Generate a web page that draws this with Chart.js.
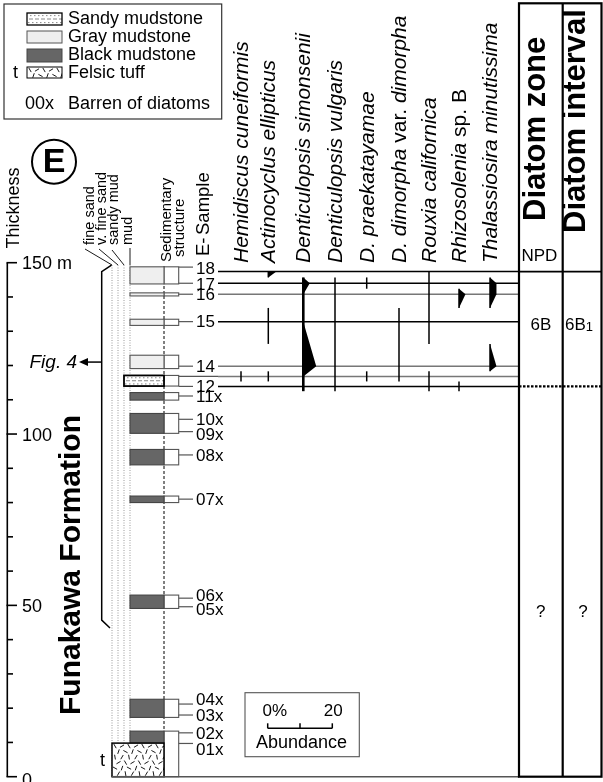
<!DOCTYPE html>
<html><head><meta charset="utf-8">
<script src="https://cdn.jsdelivr.net/npm/chart.js@4"></script>
<style>html,body{margin:0;padding:0;background:#fff;}#wrap{width:603px;height:782px;}</style>
</head><body><div id="wrap"><canvas id="c" width="603" height="782"></canvas></div>
<script>
// ---------------- DATA ----------------
const thicknessTicks = [0, 50, 100, 150];
const thicknessTickLabels = ['0', '50', '100', '150 m'];
const thicknessMinorTicks = [10, 20, 30, 40, 60, 70, 80, 90, 110, 120, 130, 140];

const sampleLabels  = ['18','17','16','15','14','13','12','11x','10x','09x','08x','07x','06x','05x','04x','03x','02x','01x'];
const sampleHeights = [147.4,144.0,140.8,132.8,119.8,116.8,113.9,111.1,104.3,100.7,93.9,81.0,52.1,49.6,21.2,18.0,12.8,9.7];

const lithoTypes = ['gray','gray','gray','gray','sandy','black','black','black','black','black','black','black','tuff'];
const lithoTops  = [148.8,141.2,133.5,123.0,117.1,112.1,106.0,95.5,81.9,53.0,22.6,13.3,9.8];
const lithoBases = [143.8,140.3,131.7,119.1,114.0,109.9,100.2,91.0,80.0,49.1,17.3,9.9,0];
const structTops  = [148.8,141.2,133.5,123.0,117.1,112.1,106.0,95.5,81.9,53.0,22.6,13.3];
const structBases = [143.8,140.3,131.7,119.1,114.0,109.9,100.2,91.0,80.0,49.1,17.3,0];

const speciesNames = ['Hemidiscus cuneiformis','Actinocyclus ellipticus','Denticulopsis simonsenii','Denticulopsis vulgaris','D. praekatayamae','D. dimorpha var. dimorpha','Rouxia californica','Rhizosolenia sp. B','Thalassiosira minutissima'];
// abundance (%) at samples 18,17,16,15,14,13,12 ; null = absent, 0 = present (rare)
const hemidiscus    = [null,null,null,null,null,0,null];
const actinocyclus  = [2.5,null,null,0,null,0,null];
const simonsenii    = [null,2,0,0,4,0,0];
const vulgaris      = [null,0,0,0,0,0,0];
const praekatayamae = [null,0,null,null,null,0,null];
const dimorpha      = [null,null,null,0,0,0,null];
const rouxia        = [0,0,0,0,null,0,0];
const rhizosolenia  = [null,null,2,null,null,null,0];
const thalassiosira = [null,2,2,null,2,null,null];
const speciesSeries = [hemidiscus,actinocyclus,simonsenii,vulgaris,praekatayamae,dimorpha,rouxia,rhizosolenia,thalassiosira];

const zoneNames     = ['6B','?'];
const intervalNames = ['6B1','?'];
const zoneTops      = [147.4,113.9];
const zoneBases     = [113.9,0];

const legendLabels = ['Sandy mudstone','Gray mudstone','Black mudstone','Felsic tuff','Barren of diatoms'];
const grainLabels = ['fine sand','v. fine sand','sandy mud','mud'];
const abundanceScaleTicks = [0,10,20];

// ---------------- LAYOUT / STYLE ----------------
const FONT = '"Liberation Sans", Arial, Helvetica, sans-serif';
const PX_PER_PCT = 3.23;
const L = {
  axisX: 7.3, grainX: [112,118,124,130], structL: 164, structR: 178.7,
  tickR: 193, labelX: 196, lineStart: 218, panelR: 519, zoneDiv: 562.7, tableR: 601.5, tableTop: 3.3,
  speciesX: [241,268.3,303.3,335,366.7,399,429,459,490],
  zoneLabelAt: [131.8, 48.0]
};
const grainOf = {gray:3, black:3, sandy:2, tuff:0};
const sampleLineColor = {'18':'#000','17':'#000','16':'#777','15':'#000','14':'#777','13':'#777','12':'#000'};
const hiddenSampleLabels = ['13'];
const sampleTickDy  = {'18': -4.5};
const sampleLabelDy = {'18': -3.5, '17': 1, '09x': 3, '06x': -3, '05x': 3, '04x': -4.5, '01x': 5.5};
const speciesLineW = [1.5,1.5,2.6,1.5,1.5,1.5,1.5,1.5,1.5];
const uprightTokens = ['var.','sp.','B'];

function tuffPattern(ctx, x, y, w, h){
  ctx.save();
  ctx.beginPath(); ctx.rect(x, y, w, h); ctx.clip();
  ctx.strokeStyle = '#000'; ctx.lineWidth = 0.9;
  const angs = [1.05, 2.1, 0.5, 2.6, 1.4, 1.9];
  let k = 0;
  for (let r = 0; r * 5.5 < h + 4; r++) {
    for (let c = 0; c * 7 < w + 4; c++) {
      const cx = x + 3 + c * 7 + (r % 2) * 3.5;
      const cy = y + 3 + r * 5.5;
      const a = angs[(r * 4 + c * 3 + k) % angs.length];
      const len = 2.4;
      ctx.beginPath();
      ctx.moveTo(cx - Math.cos(a) * len, cy - Math.sin(a) * len);
      ctx.lineTo(cx + Math.cos(a) * len, cy + Math.sin(a) * len);
      ctx.stroke();
    }
    k++;
  }
  ctx.restore();
}
function sandyPattern(ctx, x, y, w, h){
  ctx.save();
  ctx.beginPath(); ctx.rect(x, y, w, h); ctx.clip();
  ctx.strokeStyle = '#888'; ctx.lineWidth = 1;
  ctx.setLineDash([4, 2]);
  ctx.beginPath(); ctx.moveTo(x + 2, y + h * 0.5); ctx.lineTo(x + w, y + h * 0.5); ctx.stroke();
  ctx.setLineDash([1.5, 2.5]);
  ctx.beginPath(); ctx.moveTo(x + 3, y + h * 0.22); ctx.lineTo(x + w, y + h * 0.22); ctx.stroke();
  ctx.beginPath(); ctx.moveTo(x + 1, y + h * 0.8); ctx.lineTo(x + w, y + h * 0.8); ctx.stroke();
  ctx.restore();
}
function rotText(ctx, txt, x, y, font, align){
  ctx.save(); ctx.translate(x, y); ctx.rotate(-Math.PI / 2);
  ctx.font = font; ctx.textAlign = align || 'left'; ctx.textBaseline = 'middle';
  ctx.fillText(txt, 0, 0); ctx.restore();
}

const stratPlugin = {
  id: 'strat',
  beforeDraw(chart){
    const ctx = chart.ctx; ctx.save(); ctx.fillStyle = '#fff'; ctx.fillRect(0, 0, chart.width, chart.height); ctx.restore();
  },
  afterDraw(chart){
    const ctx = chart.ctx;
    const ys = chart.scales.y, xs = chart.scales.x;
    const Y = m => ys.getPixelForValue(m);
    const W = p => xs.getPixelForValue(p) - xs.getPixelForValue(0);
    ctx.save();
    ctx.fillStyle = '#000'; ctx.strokeStyle = '#000';

    // ---- legend box ----
    ctx.lineWidth = 1.2; ctx.strokeStyle = '#333';
    ctx.strokeRect(4, 4, 217.7, 115);
    const sw = [[27,13,35,12],[27,31,35,12],[27,49,35,13],[27,67,35,11]];
    ctx.fillStyle = '#fff'; ctx.fillRect(...sw[0]); sandyPattern(ctx, ...sw[0]);
    ctx.strokeStyle = '#000'; ctx.lineWidth = 1.3; ctx.strokeRect(...sw[0]);
    ctx.fillStyle = '#efefef'; ctx.fillRect(...sw[1]); ctx.strokeStyle = '#555'; ctx.lineWidth = 1; ctx.strokeRect(...sw[1]);
    ctx.fillStyle = '#666'; ctx.fillRect(...sw[2]); ctx.strokeStyle = '#444'; ctx.strokeRect(...sw[2]);
    ctx.fillStyle = '#fff'; ctx.fillRect(...sw[3]); tuffPattern(ctx, ...sw[3]); ctx.strokeStyle = '#000'; ctx.strokeRect(...sw[3]);
    ctx.fillStyle = '#000'; ctx.font = '18px ' + FONT; ctx.textAlign = 'left'; ctx.textBaseline = 'middle';
    const ly = [19.5, 37.5, 55.5, 73, 104.5];
    legendLabels.forEach((t, i) => ctx.fillText(t, 68, ly[i]));
    ctx.fillText('t', 13, 73);
    ctx.fillText('00x', 25, 104.5);

    // ---- E circle ----
    ctx.lineWidth = 2; ctx.beginPath(); ctx.arc(54, 161.7, 22, 0, Math.PI * 2); ctx.stroke();
    ctx.font = 'bold 34px ' + FONT; ctx.textAlign = 'center'; ctx.textBaseline = 'middle';
    ctx.fillText('E', 54, 163);

    // ---- column headers ----
    rotText(ctx, 'Thickness', 14, 208, '18px ' + FONT, 'center');
    const grainTextX = [90, 102, 114, 127.5];
    const leadStart = [[85, 249], [99, 249], [112, 250], [130, 248]];
    grainLabels.forEach((t, i) => rotText(ctx, t, grainTextX[i], 245, '14.5px ' + FONT, 'left'));
    ctx.strokeStyle = '#000'; ctx.lineWidth = 0.9;
    leadStart.forEach((p, i) => { ctx.beginPath(); ctx.moveTo(p[0], p[1]); ctx.lineTo(L.grainX[i], 265); ctx.stroke(); });
    rotText(ctx, 'Sedimentary', 166.5, 262, '15px ' + FONT, 'left');
    rotText(ctx, 'structure', 180, 257, '15px ' + FONT, 'left');
    rotText(ctx, 'Sample', 203.5, 235, '18.5px ' + FONT, 'left');
    rotText(ctx, 'E-', 203.5, 256, '18.5px ' + FONT, 'left');

    // species headers
    speciesNames.forEach((name, s) => {
      ctx.save(); ctx.translate(L.speciesX[s] + 1, 263); ctx.rotate(-Math.PI / 2);
      ctx.textAlign = 'left'; ctx.textBaseline = 'middle';
      let cx = 0;
      name.split(' ').forEach((tok, k) => {
        const up = uprightTokens.includes(tok);
        ctx.font = (up ? '' : 'italic ') + '21px ' + FONT;
        const t = (k > 0 ? ' ' : '') + tok;
        ctx.fillText(t, cx, 0); cx += ctx.measureText(t).width;
      });
      ctx.restore();
    });

    // ---- thickness axis ----
    ctx.strokeStyle = '#000'; ctx.lineWidth = 1.6; ctx.setLineDash([]);
    ctx.beginPath(); ctx.moveTo(L.axisX, Y(150)); ctx.lineTo(L.axisX, Y(0)); ctx.stroke();
    thicknessTicks.forEach(v => { ctx.beginPath(); ctx.moveTo(L.axisX - 0.8, Y(v)); ctx.lineTo(17, Y(v)); ctx.stroke(); });
    thicknessMinorTicks.forEach(v => { ctx.beginPath(); ctx.moveTo(L.axisX, Y(v)); ctx.lineTo(13, Y(v)); ctx.stroke(); });
    ctx.font = '18px ' + FONT; ctx.textAlign = 'left'; ctx.textBaseline = 'middle'; ctx.fillStyle = '#000';
    thicknessTicks.forEach((v, i) => ctx.fillText(thicknessTickLabels[i], 22, Y(v) + (v === 0 ? 4 : 1.5)));

    // ---- grain-size dotted lines & structure dashed line ----
    ctx.lineWidth = 1; ctx.strokeStyle = '#9a9a9a'; ctx.setLineDash([1, 1.5]);
    L.grainX.forEach(x => { ctx.beginPath(); ctx.moveTo(x, 265); ctx.lineTo(x, Y(0)); ctx.stroke(); });
    ctx.strokeStyle = '#000'; ctx.setLineDash([3, 2]);
    ctx.beginPath(); ctx.moveTo(L.structL, 266); ctx.lineTo(L.structL, Y(0)); ctx.stroke();
    ctx.setLineDash([]);

    // ---- structure boxes ----
    structTops.forEach((t, i) => {
      const y0 = Y(t), y1 = Y(structBases[i]);
      ctx.fillStyle = '#fff'; ctx.fillRect(L.structL, y0, L.structR - L.structL, y1 - y0);
      ctx.strokeStyle = '#555'; ctx.lineWidth = 1.1; ctx.strokeRect(L.structL, y0, L.structR - L.structL, y1 - y0);
    });
    // ---- lithology ----
    lithoTypes.forEach((tp, i) => {
      const x0 = L.grainX[grainOf[tp]], y0 = Y(lithoTops[i]), y1 = Y(lithoBases[i]);
      const w = L.structL - x0, h = y1 - y0;
      if (tp === 'gray') { ctx.fillStyle = '#efefef'; ctx.fillRect(x0, y0, w, h); ctx.strokeStyle = '#555'; ctx.lineWidth = 1.1; ctx.strokeRect(x0, y0, w, h); }
      if (tp === 'black') { ctx.fillStyle = '#666'; ctx.fillRect(x0, y0, w, h); ctx.strokeStyle = '#444'; ctx.lineWidth = 1.1; ctx.strokeRect(x0, y0, w, h); }
      if (tp === 'sandy') { ctx.fillStyle = '#fff'; ctx.fillRect(x0, y0, w, h); sandyPattern(ctx, x0, y0, w, h); ctx.strokeStyle = '#000'; ctx.lineWidth = 1.8; ctx.strokeRect(x0, y0, w, h); }
      if (tp === 'tuff') { ctx.fillStyle = '#fff'; ctx.fillRect(x0, y0, w, h); tuffPattern(ctx, x0, y0, w, h); ctx.strokeStyle = '#000'; ctx.lineWidth = 1.5; ctx.strokeRect(x0, y0, w, h); }
    });
    ctx.font = '18px ' + FONT; ctx.fillStyle = '#000'; ctx.textAlign = 'left'; ctx.textBaseline = 'middle';
    ctx.fillText('t', 100, Y((lithoTops[12] + lithoBases[12]) / 2) + 1);

    // ---- samples ----
    const nAb = hemidiscus.length;
    sampleLabels.forEach((lab, i) => {
      const y = Y(sampleHeights[i]);
      const ty = y + (sampleTickDy[lab] || 0);
      const hidden = hiddenSampleLabels.includes(lab);
      ctx.strokeStyle = '#555'; ctx.lineWidth = 1.2;
      ctx.beginPath(); ctx.moveTo(L.structR, ty); ctx.lineTo(hidden ? L.lineStart : L.tickR, ty); ctx.stroke();
      if (!hidden) { ctx.font = '17px ' + FONT; ctx.fillStyle = '#000'; ctx.textAlign = 'left'; ctx.textBaseline = 'middle'; ctx.fillText(lab, L.labelX, y + 1 + (sampleLabelDy[lab] || 0)); }
      if (i < nAb) {
        ctx.strokeStyle = sampleLineColor[lab] || '#000'; ctx.lineWidth = 1.5;
        ctx.beginPath(); ctx.moveTo(L.lineStart, y); ctx.lineTo(L.panelR, y); ctx.stroke();
      }
    });
    // bottom line
    ctx.strokeStyle = '#555'; ctx.lineWidth = 1.6;
    ctx.beginPath(); ctx.moveTo(L.grainX[0], Y(0)); ctx.lineTo(L.panelR, Y(0)); ctx.stroke();

    // ---- abundance ----
    const N = sampleHeights.length;
    const mid = (a, b) => (sampleHeights[a] + sampleHeights[b]) / 2;
    speciesSeries.forEach((vals, s) => {
      const x0 = L.speciesX[s];
      const v = i => (i < vals.length ? vals[i] : null);
      let i = 0;
      while (i < N) {
        if (v(i) === null) { i++; continue; }
        let j = i; while (j + 1 < N && v(j + 1) !== null) j++;
        const topM = i === 0 ? sampleHeights[0] : mid(i - 1, i);
        const botM = j + 1 < N ? mid(j, j + 1) : sampleHeights[j];
        ctx.strokeStyle = '#000'; ctx.lineWidth = speciesLineW[s];
        ctx.beginPath(); ctx.moveTo(x0, Y(topM)); ctx.lineTo(x0, Y(botM)); ctx.stroke();
        let any = false; for (let k = i; k <= j; k++) if (v(k) > 0) any = true;
        if (any) {
          ctx.fillStyle = '#000'; ctx.beginPath();
          ctx.moveTo(x0, Y(topM));
          for (let k = i; k <= j; k++) ctx.lineTo(x0 + W(v(k)), Y(sampleHeights[k]));
          ctx.lineTo(x0, Y(botM));
          ctx.closePath(); ctx.fill();
        }
        i = j + 1;
      }
    });

    // ---- zone table ----
    ctx.strokeStyle = '#000'; ctx.lineWidth = 2.2;
    ctx.strokeRect(L.panelR, L.tableTop, L.tableR - L.panelR, Y(0) - L.tableTop);
    ctx.beginPath(); ctx.moveTo(L.zoneDiv, L.tableTop); ctx.lineTo(L.zoneDiv, Y(0)); ctx.stroke();
    ctx.lineWidth = 1.6;
    ctx.beginPath(); ctx.moveTo(L.panelR, Y(zoneTops[0])); ctx.lineTo(L.tableR, Y(zoneTops[0])); ctx.stroke();
    ctx.lineWidth = 2.2; ctx.setLineDash([2.5, 1.5]);
    ctx.beginPath(); ctx.moveTo(L.panelR, Y(zoneBases[0])); ctx.lineTo(603, Y(zoneBases[0])); ctx.stroke();
    ctx.setLineDash([]);
    rotText(ctx, 'Diatom zone', 536, 221, 'bold 31px ' + FONT, 'left');
    rotText(ctx, 'Diatom interval', 576, 233, 'bold 31px ' + FONT, 'left');
    ctx.font = '17px ' + FONT; ctx.textAlign = 'left'; ctx.textBaseline = 'middle'; ctx.fillStyle = '#000';
    ctx.fillText('NPD', 521.5, 256);
    zoneNames.forEach((z, k) => {
      const y = Y(L.zoneLabelAt[k]);
      ctx.font = '17px ' + FONT; ctx.textAlign = 'center'; ctx.textBaseline = 'middle';
      ctx.fillText(z, (L.panelR + L.zoneDiv) / 2, y);
      const iv = intervalNames[k];
      if (iv.length > 2) {
        ctx.textAlign = 'left'; ctx.fillText(iv.slice(0, 2), 565, y);
        const w2 = ctx.measureText(iv.slice(0, 2)).width;
        ctx.font = '13px ' + FONT; ctx.fillText(iv.slice(2), 565 + w2, y + 2.5);
      } else {
        ctx.fillText(iv, (L.zoneDiv + L.tableR) / 2 + 1, y);
      }
    });

    // ---- formation bracket, Fig.4, Funakawa ----
    ctx.strokeStyle = '#000'; ctx.lineWidth = 1.5;
    ctx.beginPath(); ctx.moveTo(111.5, Y(149.3)); ctx.lineTo(101.7, Y(147.4)); ctx.lineTo(101.7, Y(45.7)); ctx.lineTo(110, Y(43.4)); ctx.stroke();
    const fy = Y(121.0);
    ctx.beginPath(); ctx.moveTo(86, fy); ctx.lineTo(101.7, fy); ctx.stroke();
    ctx.fillStyle = '#000'; ctx.beginPath(); ctx.moveTo(79, fy); ctx.lineTo(88, fy - 4); ctx.lineTo(88, fy + 4); ctx.closePath(); ctx.fill();
    ctx.font = 'italic 19px ' + FONT; ctx.textAlign = 'right'; ctx.textBaseline = 'middle';
    ctx.fillText('Fig. 4', 77, fy + 1);
    rotText(ctx, 'Funakawa Formation', 72, 565, 'bold 30px ' + FONT, 'center');

    // ---- abundance scale box ----
    ctx.strokeStyle = '#555'; ctx.lineWidth = 1.1;
    ctx.strokeRect(245, 692.7, 114.3, 64);
    const bx = 267.7, by = 728.3;
    ctx.strokeStyle = '#000'; ctx.lineWidth = 1.5;
    ctx.beginPath(); ctx.moveTo(bx, by); ctx.lineTo(bx + W(20), by); ctx.stroke();
    abundanceScaleTicks.forEach(t => { ctx.beginPath(); ctx.moveTo(bx + W(t), by); ctx.lineTo(bx + W(t), by - 5); ctx.stroke(); });
    ctx.font = '17px ' + FONT; ctx.textBaseline = 'middle'; ctx.fillStyle = '#000';
    ctx.textAlign = 'left'; ctx.fillText('0%', 262.5, 711);
    ctx.textAlign = 'center'; ctx.fillText('20', bx + W(20) + 1, 711);
    ctx.font = '18px ' + FONT; ctx.fillText('Abundance', 301.5, 743.5);

    ctx.restore();
  }
};

const chart = new Chart(document.getElementById('c'), {
  type: 'scatter',
  data: { datasets: [] },
  options: {
    responsive: false, animation: false, devicePixelRatio: 1,
    layout: { padding: { top: 262.7, bottom: 782 - 776.7, left: 0, right: 0 } },
    plugins: { legend: { display: false }, tooltip: { enabled: false } },
    scales: {
      x: { type: 'linear', min: 0, max: 603 / PX_PER_PCT, display: false },
      y: { type: 'linear', min: 0, max: 150, display: false }
    }
  },
  plugins: [stratPlugin]
});
</script></body></html>
